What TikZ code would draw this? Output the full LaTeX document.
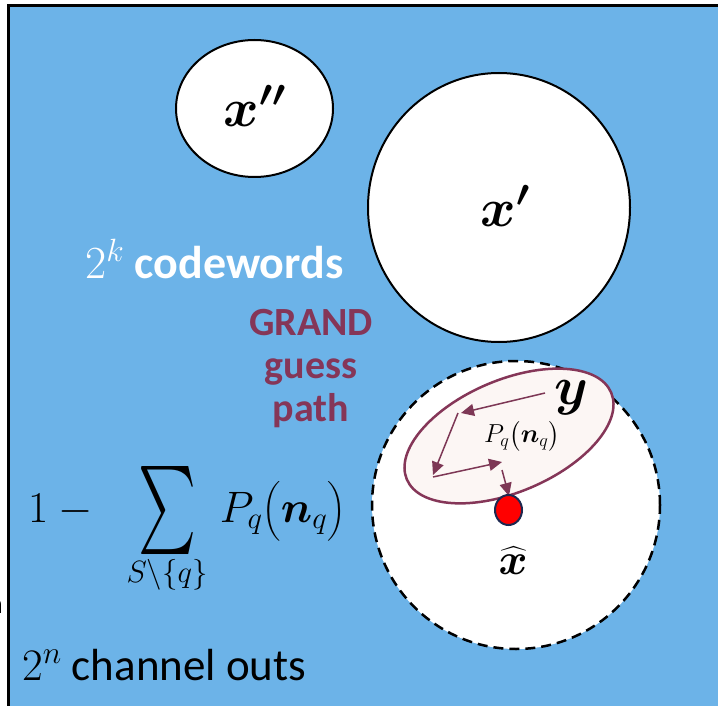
\RequirePackage{fix-cm}
\documentclass[tikz,border=0pt]{standalone}
\usepackage{amsmath}
\usepackage{exscale}
\usepackage{bm}
\usepackage{fontspec}
\setmainfont{Carlito}
\usetikzlibrary{arrows.meta,shapes.geometric}
\definecolor{bgblue}{RGB}{108,179,232}
\definecolor{grandred}{RGB}{133,54,88}
\definecolor{arrowred}{RGB}{125,55,85}
\definecolor{pinkfill}{RGB}{252,246,244}
\definecolor{dotnavy}{RGB}{30,40,80}
\newcommand{\bigsumsym}{\mathop{\vcenter{\hbox{\resizebox*{58pt}{88pt}{$\textstyle\sum$}}}}}
\tikzset{
  codeword/.style={draw=black, fill=white, line width=2pt, ellipse, inner sep=0pt},
  guessarrow/.style={draw=arrowred, line width=1.5pt, -{Triangle[length=13pt,width=12pt]}},
  biglabel/.style={font=\fontsize{54}{60}\selectfont, inner sep=0pt},
}
\begin{document}
\begin{tikzpicture}[x=1pt,y=-1pt]
\useasboundingbox (0,0) rectangle (718,706);
% background
\fill[bgblue] (10,7) rectangle (720,708);
\draw[line width=3pt] (8.7,708) -- (8.7,5.3) -- (720,5.3);
% clipped fragment at the left edge
\node[anchor=base east, inner sep=0pt, font=\fontsize{28}{30}\selectfont] (frag) at (3,613) {n};
% codeword balls
\node[codeword, minimum width=157pt, minimum height=137pt] (c2) at (254.5,108.5) {};
\node[codeword, minimum width=262pt, minimum height=269pt] (c1) at (499,207.5) {};
\node[codeword, circle, dash pattern=on 10pt off 6pt, line width=2.5pt, minimum size=288pt] (c0) at (516,505) {};
% GRAND ellipse
\node[draw=grandred, fill=pinkfill, line width=2.5pt, ellipse, rotate=23, minimum width=222pt, minimum height=112pt, inner sep=0pt] (ge) at (509,436) {};
% guess path
\coordinate (p0) at (545,393);
\coordinate (p1) at (461,413);
\coordinate (p1s) at (458,413);
\coordinate (p2) at (433,475);
\coordinate (p2s) at (433,477);
\coordinate (p3) at (502,462);
\coordinate (p3s) at (502,470);
\coordinate (p4) at (509,496);
\draw[guessarrow] (p0) -- (p1);
\draw[guessarrow] (p1s) -- (p2);
\draw[guessarrow] (p2s) -- (p3);
\draw[guessarrow] (p3s) -- (p4);
% decoded point
\node[draw=dotnavy, fill=red, line width=2pt, ellipse, minimum width=27pt, minimum height=30pt, inner sep=0pt] (dot) at (508.5,510) {};
% labels
\node[biglabel] (lx2) at (255,106) {$\bm{x''}$};
\node[biglabel] (lx1) at (505,206) {$\bm{x'}$};
\node[biglabel] (ly) at (571,398) {$\bm{y}$};
\node[inner sep=0pt, font=\fontsize{44}{48}\selectfont] (lxh) at (513,561) {$\widehat{\bm{x}}$};
\node[inner sep=0pt, font=\fontsize{26}{30}\selectfont] (lp) at (522,436) {$P_q\bigl(\bm{n}_q\bigr)$};
% texts
\node[anchor=base west, inner sep=0pt, text=white, font=\bfseries\fontsize{46}{50}\selectfont] (cw) at (85,278) {$2^k$ codewords};
\node[anchor=base, inner sep=0pt, text=grandred, align=center, font=\bfseries\fontsize{40}{43}\selectfont] (gr) at (311,421) {GRAND\\guess\\path};
\node[anchor=base west, inner sep=0pt, font=\fontsize{44}{50}\selectfont] (frm) at (28,522) {$1-\mkern10mu\bigsumsym\limits_{S\setminus\{q\}}\mkern2mu P_q\bigl(\bm{n}_q\bigr)$};
\node[anchor=base west, inner sep=0pt, font=\fontsize{45}{50}\selectfont] (co) at (22,680) {$2^n$ channel outs};
\end{tikzpicture}
\end{document}
